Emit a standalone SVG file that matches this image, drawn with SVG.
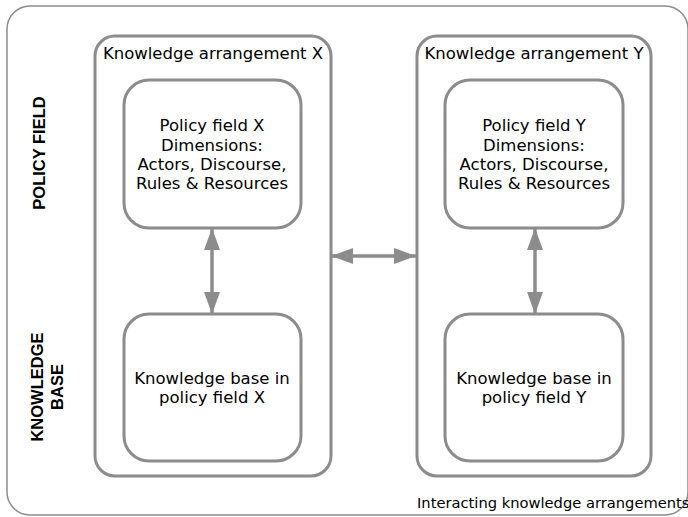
<svg xmlns="http://www.w3.org/2000/svg" width="688" height="517" viewBox="0 0 688 517">
<defs>
<style>
.frame{fill:none;stroke:#8c8c8c;stroke-width:1.5}
.box{fill:#fff;stroke:#8c8c8c;stroke-width:3}
.t{font-family:"DejaVu Sans",Verdana,sans-serif;font-size:16.5px;fill:#000;text-anchor:middle}
.lbl{font-family:"Liberation Sans",Arial,sans-serif;font-size:16.5px;font-weight:bold;fill:#000;text-anchor:middle}
.conn{stroke:#8c8c8c;stroke-width:3.5;fill:none}
</style>
<marker id="ah" viewBox="0 0 22 16" refX="22" refY="8" markerWidth="22" markerHeight="16" markerUnits="userSpaceOnUse" orient="auto-start-reverse">
<path d="M0,0 L22,8 L0,16 Z" fill="#8c8c8c"/>
</marker>
</defs>
<rect class="frame" x="7" y="6" width="681" height="509" rx="23"/>
<text class="lbl" transform="translate(45,153) rotate(-90)">POLICY FIELD</text>
<text class="lbl" transform="translate(43,387) rotate(-90)"><tspan x="0" y="0">KNOWLEDGE</tspan><tspan x="0" y="20">BASE</tspan></text>
<g id="arrX">
<rect class="box" x="95" y="36" width="236" height="440" rx="20"/>
<text class="t" x="213" y="59">Knowledge arrangement X</text>
</g>
<g id="arrY">
<rect class="box" x="417" y="36" width="234" height="440" rx="20"/>
<text class="t" x="534" y="59">Knowledge arrangement Y</text>
</g>
<g id="pfX">
<rect class="box" x="124" y="80" width="177" height="148" rx="25"/>
<text class="t" x="212" y="131">Policy field X</text>
<text class="t" x="212" y="151">Dimensions:</text>
<text class="t" x="212" y="170">Actors, Discourse,</text>
<text class="t" x="212" y="189">Rules &amp; Resources</text>
</g>
<g id="pfY">
<rect class="box" x="445" y="80" width="178" height="148" rx="25"/>
<text class="t" x="534" y="131">Policy field Y</text>
<text class="t" x="534" y="151">Dimensions:</text>
<text class="t" x="534" y="170">Actors, Discourse,</text>
<text class="t" x="534" y="189">Rules &amp; Resources</text>
</g>
<g id="kbX">
<rect class="box" x="124" y="314" width="177" height="147" rx="25"/>
<text class="t" x="212" y="384">Knowledge base in</text>
<text class="t" x="212" y="403">policy field X</text>
</g>
<g id="kbY">
<rect class="box" x="445" y="314" width="178" height="147" rx="25"/>
<text class="t" x="534" y="384">Knowledge base in</text>
<text class="t" x="534" y="403">policy field Y</text>
</g>
<g id="connectors">
<line class="conn" x1="212" y1="228" x2="212" y2="314" marker-start="url(#ah)" marker-end="url(#ah)"/>
<line class="conn" x1="535" y1="228" x2="535" y2="314" marker-start="url(#ah)" marker-end="url(#ah)"/>
<line class="conn" x1="331" y1="256" x2="416" y2="256" marker-start="url(#ah)" marker-end="url(#ah)"/>
</g>
<text x="417" y="508" style="font-family:'DejaVu Sans',Verdana,sans-serif;font-size:14.7px;fill:#000">Interacting knowledge arrangements</text>
</svg>
